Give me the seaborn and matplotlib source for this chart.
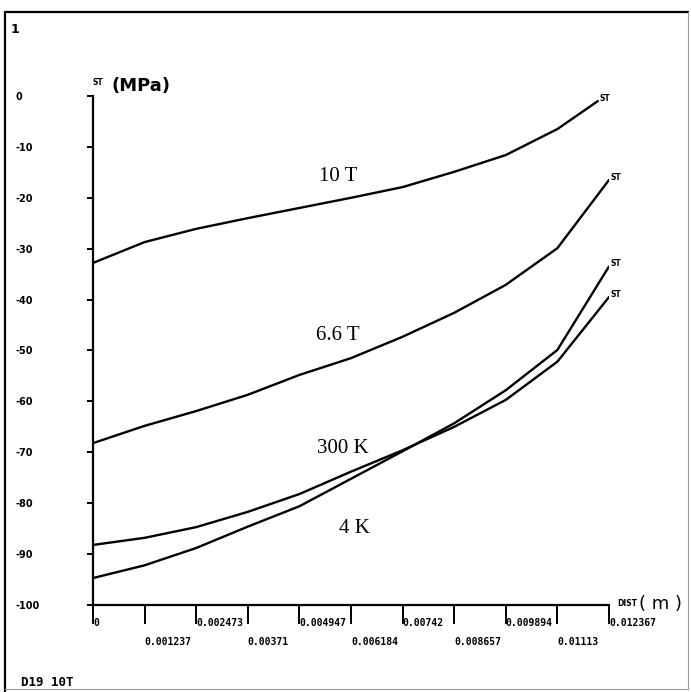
import matplotlib
matplotlib.use("Agg")
import numpy as np
import pandas as pd
import matplotlib.pyplot as plt
import seaborn as sns
from matplotlib.lines import Line2D

# stress ST (MPa) along DIST (m)
dist = [0.0, 0.001237, 0.002473, 0.00371, 0.004947, 0.006184,
        0.00742, 0.008657, 0.009894, 0.01113, 0.012367]
dist_10t = dist[:-1] + [0.0121]

st_10t = [-32.8, -28.7, -26.1, -24.0, -22.0, -20.0, -17.9, -14.9, -11.6, -6.5, -1.0]
st_66t = [-68.2, -64.8, -61.9, -58.7, -54.8, -51.5, -47.3, -42.6, -37.1, -29.9, -16.5]
st_300k = [-88.2, -86.8, -84.7, -81.7, -78.2, -73.8, -69.6, -65.0, -59.7, -52.2, -39.5]
st_4k = [-94.7, -92.2, -88.8, -84.6, -80.6, -75.2, -69.8, -64.3, -57.8, -49.9, -33.5]

case_names = ["10 T", "6.6 T", "300 K", "4 K"]
label_x = [0.00587, 0.00587, 0.00599, 0.00626]
label_y = [-15.9, -47.0, -69.2, -84.9]

y_ticks = [0, -10, -20, -30, -40, -50, -60, -70, -80, -90, -100]
x_upper = [0.0, 0.002473, 0.004947, 0.00742, 0.009894, 0.012367]
x_upper_lbl = ["0", "0.002473", "0.004947", "0.00742", "0.009894", "0.012367"]
x_lower = [0.001237, 0.00371, 0.006184, 0.008657, 0.01113]
x_lower_lbl = ["0.001237", "0.00371", "0.006184", "0.008657", "0.01113"]

frames = []
for name, xs, ys in zip(case_names, [dist_10t, dist, dist, dist],
                        [st_10t, st_66t, st_300k, st_4k]):
    frames.append(pd.DataFrame({"DIST": xs, "ST": ys, "case": name}))
df = pd.concat(frames, ignore_index=True)

sns.set_style("white")
plt.rcParams["font.family"] = ["DejaVu Sans"]
plt.rcParams["text.color"] = "black"
plt.rcParams["xtick.color"] = "black"
plt.rcParams["ytick.color"] = "black"

fig = plt.figure(figsize=(6.91, 6.92), dpi=100)
ax = fig.add_axes([0.1346, 0.1257, 0.7467, 0.7356])

sns.lineplot(data=df, x="DIST", y="ST", hue="case", sort=False,
             palette={n: "black" for n in case_names}, linewidth=1.7,
             legend=False, ax=ax)

ax.set_xlim(0, 0.012367)
ax.set_ylim(-100, 0)
ax.set_xlabel("")
ax.set_ylabel("")
for side in ["top", "right"]:
    ax.spines[side].set_visible(False)
for side in ["left", "bottom"]:
    ax.spines[side].set_linewidth(1.6)
    ax.spines[side].set_color("black")

# y ticks: short, pointing left, labels flush left near the frame
ax.set_yticks(y_ticks)
ax.set_yticklabels([str(v) for v in y_ticks], ha="left",
                   fontsize=7, fontweight="bold")
ax.tick_params(axis="y", left=True, direction="out", length=4,
               width=1.4, pad=52)

# x ticks: two staggered rows of labels
ax.set_xticks(x_upper)
ax.set_xticklabels(x_upper_lbl, ha="left", family="DejaVu Sans Mono",
                   fontsize=7, fontweight="bold")
ax.set_xticks(x_lower, minor=True)
ax.set_xticklabels(x_lower_lbl, minor=True, ha="left",
                   family="DejaVu Sans Mono", fontsize=7, fontweight="bold")
ax.tick_params(axis="x", which="both", bottom=True, direction="out",
               length=14, width=1.4)
ax.tick_params(axis="x", which="major", pad=-5)
ax.tick_params(axis="x", which="minor", pad=9)

# curve names
for name, lx, ly in zip(case_names, label_x, label_y):
    ax.text(lx, ly, name, family="Liberation Serif", fontsize=15,
            ha="center", va="center")

# "ST" tags at the end of each curve
for xs, ys in zip([dist_10t, dist, dist, dist],
                  [st_10t, st_66t, st_300k, st_4k]):
    ax.annotate("ST", (xs[-1], ys[-1]), xytext=(1, 2),
                textcoords="offset points", fontsize=5.5,
                fontweight="bold", ha="left", va="center",
                annotation_clip=False)

# axis titles
fig.text(0.134, 0.8815, "ST", fontsize=5.5, fontweight="bold",
         ha="left", va="center")
fig.text(0.161, 0.8757, "(MPa)", fontsize=13, fontweight="bold",
         ha="left", va="center")
fig.text(0.893, 0.1275, "DIST", fontsize=5.5, fontweight="bold",
         ha="left", va="center")
fig.text(0.925, 0.127, "( m )", fontsize=13, ha="left", va="center")

# page frame and captions
fig.add_artist(Line2D([0.0072, 0.0072], [0.0, 0.9827], color="black", lw=1.6))
fig.add_artist(Line2D([0.0072, 0.9957], [0.9827, 0.9827], color="black", lw=1.6))
fig.add_artist(Line2D([0.9957, 0.9957], [0.004, 0.9827], color="0.6", lw=0.8))
fig.add_artist(Line2D([0.0072, 0.9957], [0.004, 0.004], color="0.6", lw=0.8))
fig.text(0.016, 0.958, "1", fontsize=9, fontweight="bold", ha="left",
         va="center")
fig.text(0.03, 0.014, "D19 10T", family="DejaVu Sans Mono", fontsize=9,
         fontweight="bold", ha="left", va="center")

fig.savefig("out.png", dpi=100)
